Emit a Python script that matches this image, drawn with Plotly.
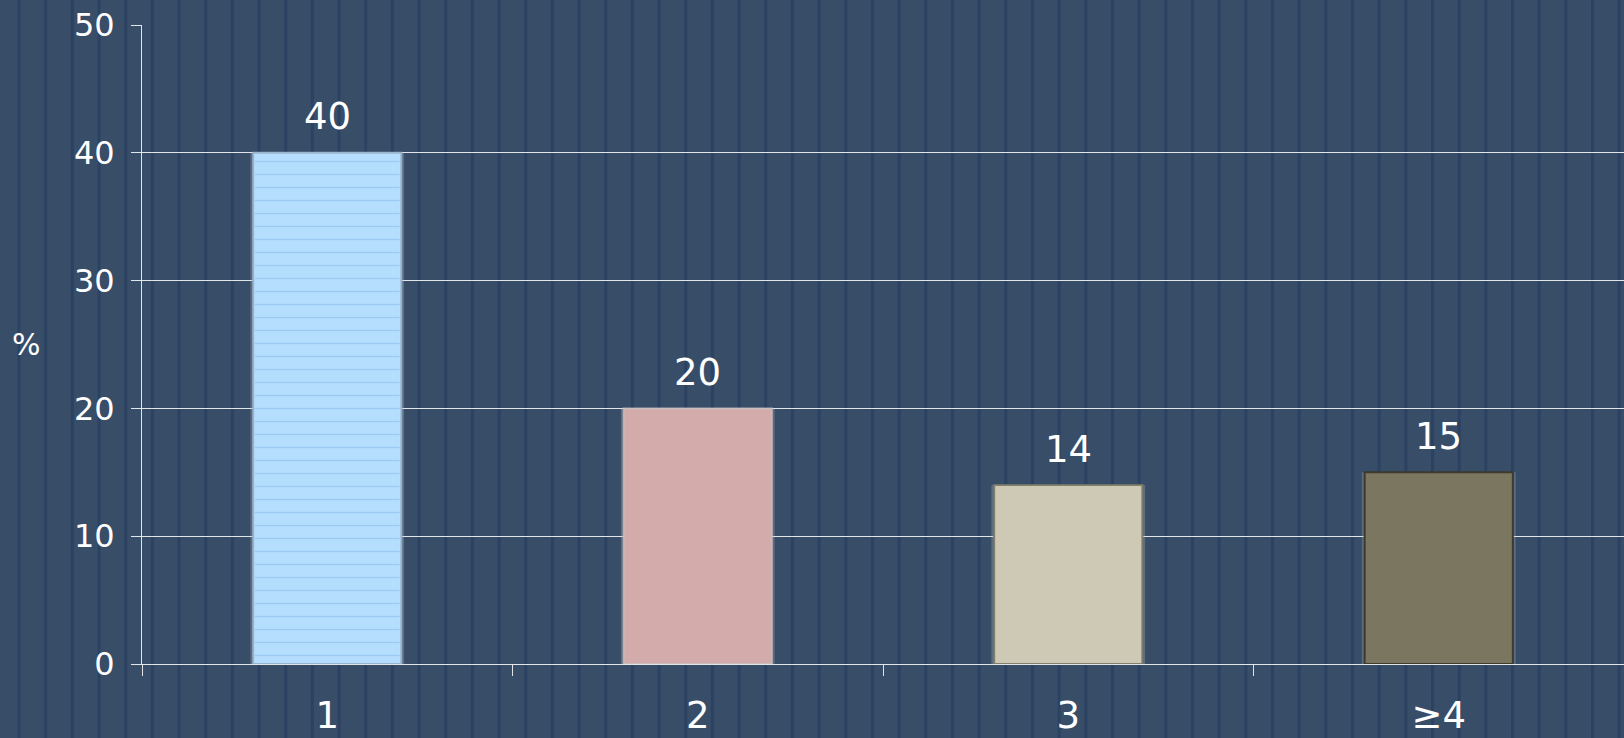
import plotly.graph_objects as go

categories = ["1", "2", "3", "≥4"]
values = [40, 20, 14, 15]
bar_colors = ["#b5ddfe", "#d4abab", "#cdc9b5", "#7a7660"]
border_colors = ["rgba(150,175,200,0.9)", "rgba(200,190,190,0.8)", "rgba(120,120,100,0.9)", "#3c3b2c"]
patterns = ["-", "", "", ""]
y_ticks = [0, 10, 20, 30, 40, 50]

W, H = 1624, 738
L, R, T, B = 142, 0, 25, 74
BG = "#384d68"
STRIPE = "#2b4262"
FONT = "DejaVu Sans"

fig = go.Figure()
# soft glow behind bars
fig.add_trace(go.Bar(
    x=categories, y=values, width=0.415,
    marker=dict(color="rgba(190,190,190,0.28)", line=dict(width=0)),
    hoverinfo="skip",
))
# solid bars
fig.add_trace(go.Bar(
    x=categories, y=values, width=0.4,
    marker=dict(color=bar_colors, line=dict(color=border_colors, width=2)),
    hoverinfo="skip",
))
# horizontal line texture on the first bar
fig.add_trace(go.Bar(
    x=categories, y=values, width=0.39,
    marker=dict(color="rgba(0,0,0,0)", line=dict(width=0),
                pattern=dict(shape=patterns, fgcolor="#9cc9f0", bgcolor="rgba(0,0,0,0)",
                             size=13, solidity=0.1, fgopacity=1, fillmode="replace")),
    hoverinfo="skip",
))

for i, v in enumerate(values):
    fig.add_annotation(x=i, y=v, text=str(v), showarrow=False,
                       yanchor="middle", yshift=36,
                       font=dict(family=FONT, size=37, color="white"))

fig.add_annotation(xref="paper", yref="paper", x=-(L - 26) / (W - L - R), y=0.5,
                   xanchor="center", yanchor="middle", text="%", showarrow=False,
                   font=dict(family=FONT, size=30, color="white"))

# background vertical stripes (decoration)
plot_w = W - L - R
shapes = []
px = 19.0
while px < W:
    xp = (px - L) / plot_w
    shapes.append(dict(type="line", xref="paper", yref="paper",
                       x0=xp, x1=xp, y0=-0.2, y1=1.1, layer="below",
                       line=dict(color=STRIPE, width=3)))
    px += 26.67
fig.update_layout(shapes=shapes)

fig.update_layout(
    width=W, height=H,
    margin=dict(l=L, r=R, t=T, b=B, pad=0),
    paper_bgcolor=BG, plot_bgcolor="rgba(0,0,0,0)",
    showlegend=False, barmode="overlay",
    font=dict(family=FONT, color="white"),
)
fig.update_yaxes(
    range=[0, 50], tickvals=y_ticks, showgrid=True, gridcolor="#e2e6ea", gridwidth=1,
    showline=True, linecolor="#e2e6ea", linewidth=1,
    ticks="outside", ticklen=10, tickcolor="#e2e6ea",
    tickfont=dict(family=FONT, size=32, color="white"),
    ticklabelstandoff=10,
    zeroline=False,
)
fig.update_xaxes(
    type="category", range=[-0.5, len(categories) - 0.5],
    showline=True, linecolor="#e2e6ea", linewidth=1,
    ticks="outside", ticklen=11, tickcolor="#e2e6ea", tickson="boundaries",
    tickfont=dict(family=FONT, size=37, color="white"),
    ticklabelstandoff=19,
    showgrid=False,
)

fig.write_html("out.html", config={"displayModeBar": False},
               post_script="document.body.style.margin='0';")
